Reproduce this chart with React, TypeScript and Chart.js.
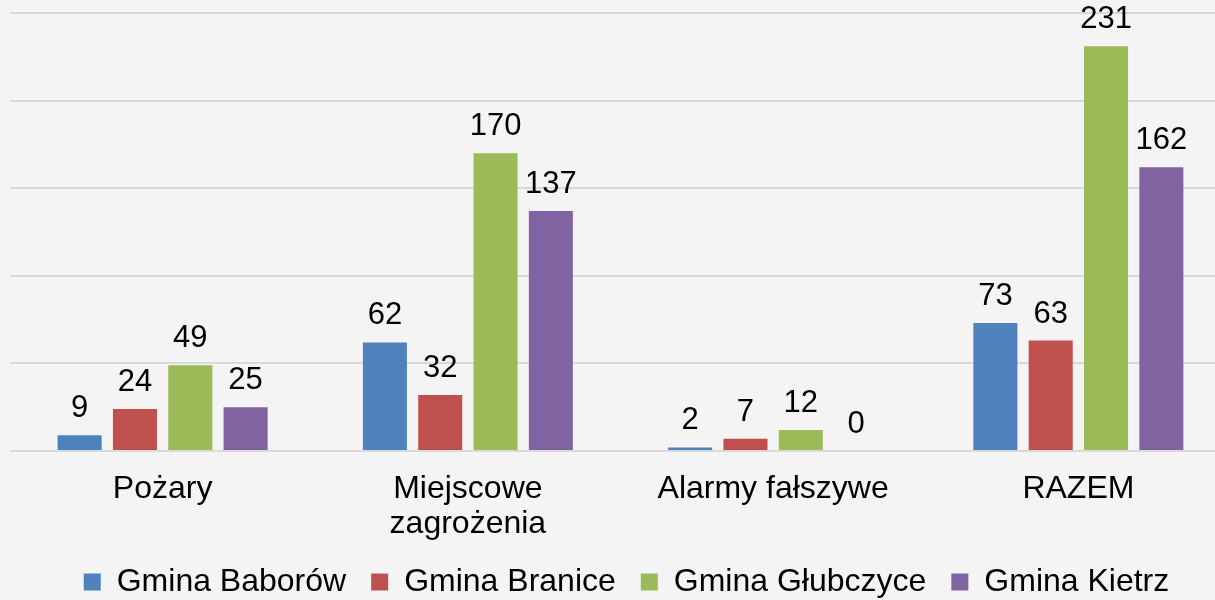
import React, { useEffect, useRef } from "react";
import { Chart, registerables } from "chart.js";

Chart.register(...registerables);

const categories: (string | string[])[] = [
  "Pożary",
  ["Miejscowe", "zagrożenia"],
  "Alarmy fałszywe",
  "RAZEM",
];
const seriesNames = ["Gmina Baborów", "Gmina Branice", "Gmina Głubczyce", "Gmina Kietrz"];
const baborow = [9, 62, 2, 73];
const branice = [24, 32, 7, 63];
const glubczyce = [49, 170, 12, 231];
const kietrz = [25, 137, 0, 162];
const seriesColors = ["#4F81BD", "#C0504D", "#9BBB59", "#8064A2"];
const yMax = 250;
const yStep = 50;

const FONT = "'Liberation Sans', Arial, sans-serif";

const valueLabels = {
  id: "valueLabels",
  afterDatasetsDraw(chart: any) {
    const ctx = chart.ctx;
    ctx.save();
    ctx.font = `31px ${FONT}`;
    ctx.fillStyle = "#000";
    ctx.textAlign = "center";
    ctx.textBaseline = "alphabetic";
    chart.data.datasets.forEach((ds: any, i: number) => {
      const meta = chart.getDatasetMeta(i);
      meta.data.forEach((bar: any, j: number) => {
        ctx.fillText(String(ds.data[j]), bar.x, bar.y - 18);
      });
    });
    ctx.restore();
  },
};

const legendShift = {
  id: "legendShift",
  afterLayout(chart: any) {
    if (chart.legend) {
      chart.legend.left += 6;
      chart.legend.right += 6;
    }
  },
};

export default function App() {
  const ref = useRef<HTMLCanvasElement | null>(null);
  useEffect(() => {
    if (!ref.current) return;
    const seriesData = [baborow, branice, glubczyce, kietrz];
    const chart = new Chart(ref.current, {
      type: "bar",
      data: {
        labels: categories,
        datasets: seriesNames.map((name, i) => ({
          label: name,
          data: seriesData[i],
          backgroundColor: seriesColors[i],
          borderWidth: 0,
          categoryPercentage: 0.725,
          barPercentage: 0.796,
        })),
      },
      options: {
        responsive: false,
        animation: false,
        layout: { padding: { left: 10, right: 1, top: 13, bottom: 0 } },
        plugins: {
          title: { display: false },
          tooltip: { enabled: false },
          legend: {
            position: "bottom",
            labels: {
              boxWidth: 17,
              boxHeight: 17,
              padding: 25,
              color: "#000",
              font: { family: FONT, size: 32 },
            },
          },
        },
        scales: {
          x: {
            grid: { display: false, drawTicks: false },
            border: { display: false },
            afterFit: (scale: any) => {
              scale.height = 90;
            },
            ticks: {
              color: "#000",
              padding: 21,
              font: { family: FONT, size: 32, lineHeight: 35 / 32 },
              maxRotation: 0,
              autoSkip: false,
            },
          },
          y: {
            min: 0,
            max: yMax,
            ticks: { display: false, stepSize: yStep },
            grid: { color: "#d9d9d9", lineWidth: 2, drawTicks: false },
            border: { display: false },
          },
        },
      },
      plugins: [valueLabels, legendShift],
    });
    return () => chart.destroy();
  }, []);

  return (
    <div
      style={{
        position: "fixed",
        left: 0,
        top: 0,
        width: 1215,
        height: 600,
        overflow: "hidden",
        background: "#f4f4f4",
      }}
    >
      <canvas ref={ref} width={1232} height={608} style={{ display: "block" }} />
    </div>
  );
}
